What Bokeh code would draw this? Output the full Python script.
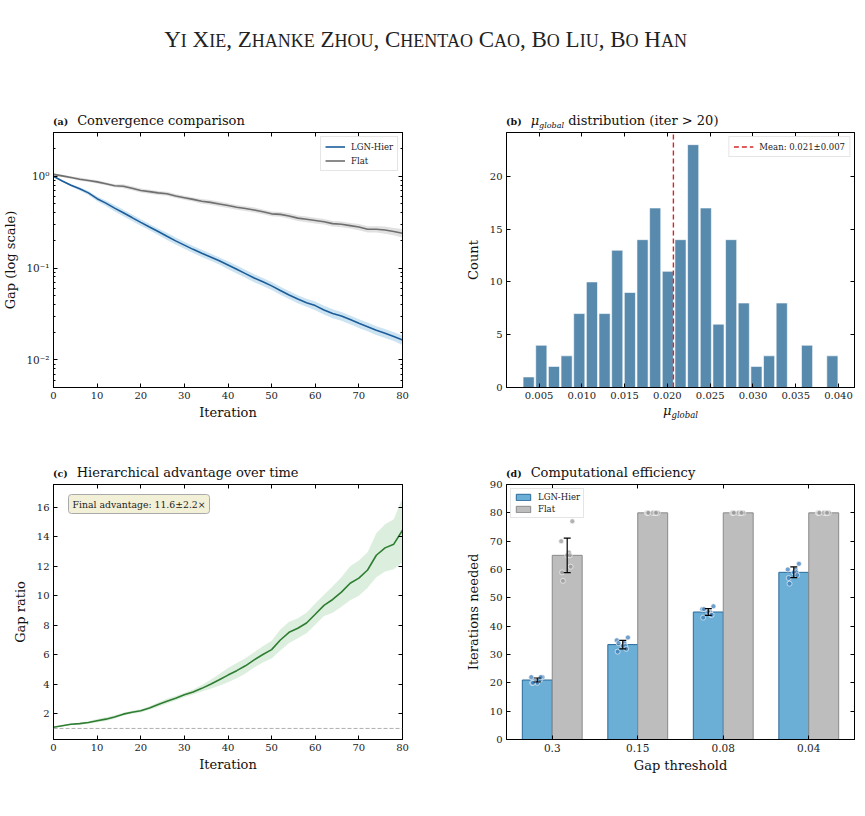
import numpy as np
from bokeh.plotting import figure
from bokeh.layouts import column, row
from bokeh.models import (Div, ColumnDataSource, LinearAxis, LogAxis, FixedTicker, Label,
                          Legend, LegendItem, Whisker, TeeHead, PrintfTickFormatter, Span,
                          Range1d, CustomJSTickFormatter)
from bokeh.embed import file_html
from bokeh.resources import INLINE

SERIF = "DejaVu Serif"
TICK_SIZE = "10px"

# ---------------- data ----------------
authors = "Yi Xie, Zhanke Zhou, Chentao Cao, Bo Liu, Bo Han"

# (a) optimality gap per iteration (mean over seeds, relative spread across seeds)
iters = list(range(0, 81, 2))
lgn_gap = [1.00, 0.89, 0.80, 0.73, 0.66, 0.57, 0.51, 0.45, 0.40, 0.355,
           0.315, 0.28, 0.25, 0.222, 0.198, 0.178, 0.16, 0.145, 0.132, 0.12,
           0.108, 0.097, 0.087, 0.078, 0.071, 0.064, 0.057, 0.051, 0.046, 0.042,
           0.039, 0.035, 0.032, 0.030, 0.0275, 0.025, 0.023, 0.021, 0.0195, 0.018,
           0.0165]
lgn_gap_rel = [0.01, 0.02, 0.03, 0.04, 0.05, 0.06, 0.07, 0.08, 0.08, 0.08,
               0.08, 0.08, 0.08, 0.09, 0.09, 0.09, 0.09, 0.09, 0.09, 0.09,
               0.10, 0.10, 0.10, 0.10, 0.10, 0.10, 0.10, 0.10, 0.10, 0.10,
               0.11, 0.11, 0.11, 0.11, 0.11, 0.11, 0.11, 0.11, 0.11, 0.11,
               0.12]
flat_gap = [1.05, 1.01, 0.97, 0.93, 0.90, 0.87, 0.83, 0.79, 0.78, 0.74,
            0.70, 0.68, 0.66, 0.645, 0.61, 0.585, 0.56, 0.535, 0.52, 0.50,
            0.48, 0.46, 0.445, 0.43, 0.41, 0.39, 0.385, 0.37, 0.35, 0.34,
            0.33, 0.32, 0.305, 0.30, 0.29, 0.28, 0.265, 0.265, 0.26, 0.25,
            0.24]
flat_gap_rel = [0.03, 0.03, 0.03, 0.04, 0.04, 0.04, 0.04, 0.04, 0.05, 0.05,
                0.05, 0.05, 0.05, 0.05, 0.05, 0.05, 0.05, 0.06, 0.06, 0.06,
                0.06, 0.06, 0.06, 0.06, 0.06, 0.06, 0.06, 0.07, 0.07, 0.07,
                0.07, 0.07, 0.07, 0.07, 0.07, 0.08, 0.08, 0.08, 0.09, 0.09,
                0.11]

# (b) histogram of mu_global after iteration 20
mu_min, mu_max = 0.00304, 0.04002
mu_counts = [1, 4, 2, 3, 7, 10, 7, 13, 9, 14, 17, 11, 14, 23, 17, 6, 14, 8, 2, 3,
             8, 0, 4, 0, 3]
mu_mean, mu_std = 0.0207, 0.007

# (c) gap ratio Flat / LGN-Hier
ratio = [1.08, 1.18, 1.28, 1.33, 1.40, 1.52, 1.63, 1.78, 1.97, 2.10,
         2.20, 2.38, 2.62, 2.85, 3.05, 3.28, 3.48, 3.72, 4.00, 4.30,
         4.62, 4.92, 5.25, 5.65, 6.02, 6.35, 7.00, 7.52, 7.80, 8.15,
         8.75, 9.35, 9.75, 10.25, 10.85, 11.20, 11.75, 12.75, 13.25, 13.50,
         14.45]
ratio_sd = [0.03, 0.04, 0.05, 0.06, 0.08, 0.12, 0.13, 0.12, 0.10, 0.10,
            0.11, 0.12, 0.14, 0.16, 0.15, 0.15, 0.17, 0.22, 0.30, 0.40,
            0.48, 0.52, 0.52, 0.52, 0.55, 0.60, 0.72, 0.72, 0.68, 0.70,
            0.72, 0.72, 0.90, 1.00, 1.15, 1.20, 1.20, 1.50, 1.60, 1.70,
            2.20]
final_adv, final_adv_sd = 11.6, 2.2

# (d) iterations needed to reach each gap threshold
thresholds = ["0.3", "0.15", "0.08", "0.04"]
lgn_need = [21, 33.5, 45, 59]
lgn_need_sd = [0.7, 1.5, 1.2, 1.9]
flat_need = [65, 80, 80, 80]
flat_need_sd = [6.1, 0, 0, 0]
lgn_seed_need = [[22, 22, 21, 20, 21, 22, 20, 20],
                 [36, 35, 34, 33, 33, 32, 31, 34],
                 [47, 46, 45, 45, 44, 44, 43, 46],
                 [62, 60, 60, 59, 59, 58, 57, 55]]
flat_seed_need = [[77, 70, 66, 65, 65, 61, 59, 56],
                  [80, 80, 80, 80, 80, 80, 80, 80],
                  [80, 80, 80, 80, 80, 80, 80, 80],
                  [80, 80, 80, 80, 80, 80, 80, 80]]
seed_jitter = [0.06, -0.07, 0.02, 0.0, 0.03, 0.04, -0.06, -0.05]

# ---------------- colours ----------------
C_LGN = "#1c5d99"
C_LGN_BAND = "#8fc0e3"
C_FLAT = "#6f6f6f"
C_FLAT_BAND = "#c4c4c4"
C_GREEN = "#2e7d32"
C_GREEN_BAND = "#a8d5a9"
C_HIST = "#4f84a9"
C_BAR_LGN = "#6baed6"
C_BAR_LGN_EDGE = "#2b6a9c"
C_BAR_FLAT = "#bdbdbd"
C_BAR_FLAT_EDGE = "#8a8a8a"

FH = 255
BLANK = CustomJSTickFormatter(code="return ''")


def style_axis(ax, labels=True, minor=False):
    ax.axis_line_color = "black"
    ax.axis_line_width = 1
    ax.major_tick_in = 4
    ax.major_tick_out = 0
    ax.major_tick_line_color = "black"
    ax.major_tick_line_width = 1
    if minor:
        ax.minor_tick_in = 2
        ax.minor_tick_out = 0
        ax.minor_tick_line_color = "black"
    else:
        ax.minor_tick_line_color = None
    ax.major_label_text_font = SERIF
    ax.major_label_text_font_size = TICK_SIZE
    ax.major_label_text_color = "#222222"
    ax.major_label_standoff = 4
    if not labels:
        ax.formatter = BLANK
        ax.major_label_standoff = 0
    ax.axis_label_text_font = SERIF
    ax.axis_label_text_font_size = "13px"
    ax.axis_label_text_font_style = "normal"
    ax.axis_label_text_color = "#111111"


def make_fig(fw, left, right, top, bottom, x_range, y_range, y_log=False):
    p = figure(frame_width=fw, frame_height=FH,
               min_border_left=left, min_border_right=right,
               min_border_top=top, min_border_bottom=bottom,
               x_range=x_range, y_range=y_range,
               y_axis_type="log" if y_log else "linear",
               output_backend="svg", toolbar_location=None,
               background_fill_color="white", border_fill_color=None)
    p.outline_line_color = "black"
    p.outline_line_width = 1
    p.grid.visible = False
    return p


def finish_axes(p, xticker, xlabel, ylabel, y_log=False, yticker=None):
    xb, yl = p.xaxis[0], p.yaxis[0]
    xb.ticker = xticker
    if yticker is not None:
        yl.ticker = yticker
    style_axis(xb)
    style_axis(yl, minor=y_log)
    if xlabel:
        xb.axis_label = xlabel
    if ylabel:
        yl.axis_label = ylabel
    xb.axis_label_standoff = 3
    yl.axis_label_standoff = 6
    top = LinearAxis(ticker=xticker)
    style_axis(top, labels=False)
    p.add_layout(top, "above")
    right = LogAxis(ticker=yl.ticker) if y_log else LinearAxis(ticker=yl.ticker)
    style_axis(right, labels=False, minor=y_log)
    p.add_layout(right, "right")
    return xb, yl


def style_legend(leg, loc):
    leg.location = loc
    leg.label_text_font = SERIF
    leg.label_text_font_size = "8.5px"
    leg.label_text_color = "#222222"
    leg.border_line_color = "#cccccc"
    leg.border_line_width = 1
    leg.background_fill_alpha = 0.85
    leg.padding = 4
    leg.spacing = 3
    leg.margin = 4
    leg.label_height = 11
    leg.glyph_height = 11
    leg.glyph_width = 20
    leg.label_standoff = 6


def title_div(width, left_pad, height, pad_top, tag, body):
    html = (f'<div style="width:{width}px;height:{height}px;box-sizing:border-box;'
            f'padding-left:{left_pad}px;padding-top:{pad_top}px;font-family:\'DejaVu Serif\';'
            f'font-size:13px;line-height:13px;color:#111;white-space:nowrap">'
            f'<span style="font-size:9.5px;font-weight:bold;margin-right:9px">{tag}</span>'
            f'{body}</div>')
    return Div(text=html, width=width, height=height, margin=(0, 0, 0, 0))


# ---------------- (a) convergence ----------------
it = np.array(iters, dtype=float)
lg = np.array(lgn_gap)
fg = np.array(flat_gap)
pa = make_fig(349, 53, 30, 6, 53, Range1d(0, 80), Range1d(0.005, 3.0), y_log=True)
pa.varea(x=it, y1=lg * (1 - np.array(lgn_gap_rel)), y2=lg * (1 + np.array(lgn_gap_rel)),
         fill_color=C_LGN_BAND, fill_alpha=0.45)
pa.varea(x=it, y1=fg * (1 - np.array(flat_gap_rel)), y2=fg * (1 + np.array(flat_gap_rel)),
         fill_color=C_FLAT_BAND, fill_alpha=0.5)
r_lgn = pa.line(it, lg, line_color=C_LGN, line_width=1.6)
r_flat = pa.line(it, fg, line_color=C_FLAT, line_width=1.6)
xa, ya = finish_axes(pa, FixedTicker(ticks=list(range(0, 81, 10))), "Iteration",
                     "Gap (log scale)", y_log=True)
ya.major_label_overrides = {1: "10\u2070", 0.1: "10\u207b\u00b9", 0.01: "10\u207b\u00b2"}
ya.major_label_text_font_size = "10.5px"
ya.axis_label_standoff = 5
leg_a = Legend(items=[LegendItem(label="LGN-Hier", renderers=[r_lgn]),
                      LegendItem(label="Flat", renderers=[r_flat])])
style_legend(leg_a, "top_right")
pa.add_layout(leg_a)
ta = title_div(432, 53, 26, 14, "(a)", "Convergence comparison")

# ---------------- (b) mu_global histogram ----------------
edges = np.linspace(mu_min, mu_max, len(mu_counts) + 1)
pad = 0.05 * (mu_max - mu_min)
count_top = 1.05 * max(mu_counts)
pb = make_fig(348, 74, 11, 6, 20, Range1d(mu_min - pad, mu_max + pad), Range1d(0, count_top))
bw = edges[1] - edges[0]
pb.quad(left=edges[:-1] + 0.06 * bw, right=edges[1:] - 0.06 * bw, bottom=0, top=mu_counts,
        fill_color=C_HIST, fill_alpha=0.95, line_color="white", line_width=0.6)
r_mean = pb.line([mu_mean, mu_mean], [0, count_top], line_color="#d62728",
                 line_width=1.4, line_dash="5 3")
xb_, yb_ = finish_axes(pb, FixedTicker(ticks=[0.005, 0.010, 0.015, 0.020, 0.025, 0.030, 0.035, 0.040]),
                       None, "Count", yticker=FixedTicker(ticks=[0, 5, 10, 15, 20]))
xb_.formatter = PrintfTickFormatter(format="%.3f")
leg_b = Legend(items=[LegendItem(label=f"Mean: {mu_mean:.3f}\u00b1{mu_std:.3f}", renderers=[r_mean])])
style_legend(leg_b, "top_right")
pb.add_layout(leg_b)
mu_title = ('<i>\u03bc</i><span style="font-size:8px;font-style:italic;position:relative;'
            'top:3px">global</span>')
tb = title_div(433, 74, 26, 14, "(b)", mu_title + " distribution (iter &gt; 20)")
mu_axis = ('<i>\u03bc</i><span style="font-size:8.5px;font-style:italic;position:relative;'
           'top:3px">global</span>')
xlab_b = Div(text=('<div style="width:433px;height:33px;box-sizing:border-box;padding-left:231px;'
                   'font-family:\'DejaVu Serif\';font-size:13px;line-height:13px;'
                   'position:relative;top:-4px;color:#111;white-space:nowrap">' + mu_axis + '</div>'),
             width=433, height=33, margin=(0, 0, 0, 0))

# ---------------- (c) gap ratio ----------------
rt = np.array(ratio)
rs = np.array(ratio_sd)
pc = make_fig(349, 53, 30, 6, 51, Range1d(0, 80), Range1d(0.25, 17.55))
pc.varea(x=it, y1=rt - rs, y2=rt + rs, fill_color=C_GREEN_BAND, fill_alpha=0.4)
pc.add_layout(Span(location=1, dimension="width", line_color="#9a9a9a",
                   line_width=0.8, line_dash="4 2"))
pc.line(it, rt, line_color=C_GREEN, line_width=1.6)
finish_axes(pc, FixedTicker(ticks=list(range(0, 81, 10))), "Iteration", "Gap ratio",
            yticker=FixedTicker(ticks=[2, 4, 6, 8, 10, 12, 14, 16]))
pc.add_layout(Label(x=15, y=FH - 10, x_units="screen", y_units="screen",
                    text=f"Final advantage: {final_adv:.1f}\u00b1{final_adv_sd:.1f}\u00d7",
                    text_font=SERIF, text_font_size="9.3px", text_color="#222222",
                    text_baseline="top", padding=4, border_radius=3,
                    background_fill_color="#f3f0d8", background_fill_alpha=1.0,
                    border_line_color="#aaaaaa", border_line_width=1))
tc = title_div(432, 53, 38, 26, "(c)", "Hierarchical advantage over time")

# ---------------- (d) computational efficiency ----------------
xs = np.arange(len(thresholds), dtype=float)
bar_w = 0.35
pd_ = make_fig(348, 74, 11, 6, 51, Range1d(-0.535, len(thresholds) - 1 + 0.535), Range1d(0, 90))
r_bl = pd_.vbar(x=xs - bar_w / 2, top=lgn_need, width=bar_w, fill_color=C_BAR_LGN,
                line_color=C_BAR_LGN_EDGE, line_width=1)
r_bf = pd_.vbar(x=xs + bar_w / 2, top=flat_need, width=bar_w, fill_color=C_BAR_FLAT,
                line_color=C_BAR_FLAT_EDGE, line_width=1)

sx_l, sy_l, sx_f, sy_f = [], [], [], []
for i in range(len(thresholds)):
    for j, v in enumerate(lgn_seed_need[i]):
        sx_l.append(xs[i] - bar_w / 2 + seed_jitter[j])
        sy_l.append(v)
    for j, v in enumerate(flat_seed_need[i]):
        sx_f.append(xs[i] + bar_w / 2 + seed_jitter[j])
        sy_f.append(v)
pd_.scatter(sx_l, sy_l, size=5, fill_color="#3f7fb8", fill_alpha=0.75,
            line_color="white", line_width=0.6)
pd_.scatter(sx_f, sy_f, size=5, fill_color="#9a9a9a", fill_alpha=0.75,
            line_color="white", line_width=0.6)

ex, elo, ehi = [], [], []
for i in range(len(thresholds)):
    if lgn_need_sd[i] > 0:
        ex.append(xs[i] - bar_w / 2)
        elo.append(lgn_need[i] - lgn_need_sd[i])
        ehi.append(lgn_need[i] + lgn_need_sd[i])
    if flat_need_sd[i] > 0:
        ex.append(xs[i] + bar_w / 2)
        elo.append(flat_need[i] - flat_need_sd[i])
        ehi.append(flat_need[i] + flat_need_sd[i])
err_src = ColumnDataSource(dict(x=ex, lower=elo, upper=ehi))
pd_.add_layout(Whisker(source=err_src, base="x", lower="lower", upper="upper",
                       line_color="black", line_width=1.2, level="overlay",
                       upper_head=TeeHead(size=7, line_color="black", line_width=1.2),
                       lower_head=TeeHead(size=7, line_color="black", line_width=1.2)))

xd, yd = finish_axes(pd_, FixedTicker(ticks=list(xs)), "Gap threshold", "Iterations needed",
                     yticker=FixedTicker(ticks=list(range(0, 91, 10))))
xd.major_label_overrides = {int(i): t for i, t in enumerate(thresholds)}
xd.major_label_text_font_size = "10.5px"
leg_d = Legend(items=[LegendItem(label="LGN-Hier", renderers=[r_bl]),
                      LegendItem(label="Flat", renderers=[r_bf])])
style_legend(leg_d, "top_left")
leg_d.glyph_width = 18
leg_d.glyph_height = 8
leg_d.label_height = 10
leg_d.spacing = 2
leg_d.padding = 3
pd_.add_layout(leg_d)
td = title_div(433, 74, 38, 26, "(d)", "Computational efficiency")

# ---------------- page header (small caps built from capitals + reduced capitals) ----------------
parts = []
for ch in authors:
    if ch.isalpha() and ch.islower():
        parts.append(f'<span style="font-size:18px">{ch.upper()}</span>')
    else:
        parts.append(ch)
header = Div(text=(f'<div style="width:865px;box-sizing:border-box;text-align:center;'
                   f'font-family:\'Liberation Serif\';font-size:23px;color:#222;padding-top:24px;'
                   f'padding-right:14px;white-space:nowrap">{"".join(parts)}</div>'),
             width=865, height=100, margin=(0, 0, 0, 0))

layout = column(header,
                row(column(ta, pa), column(tb, pb, xlab_b)),
                row(column(tc, pc), column(td, pd_)))
open("out.html", "w").write(file_html(layout, INLINE))
